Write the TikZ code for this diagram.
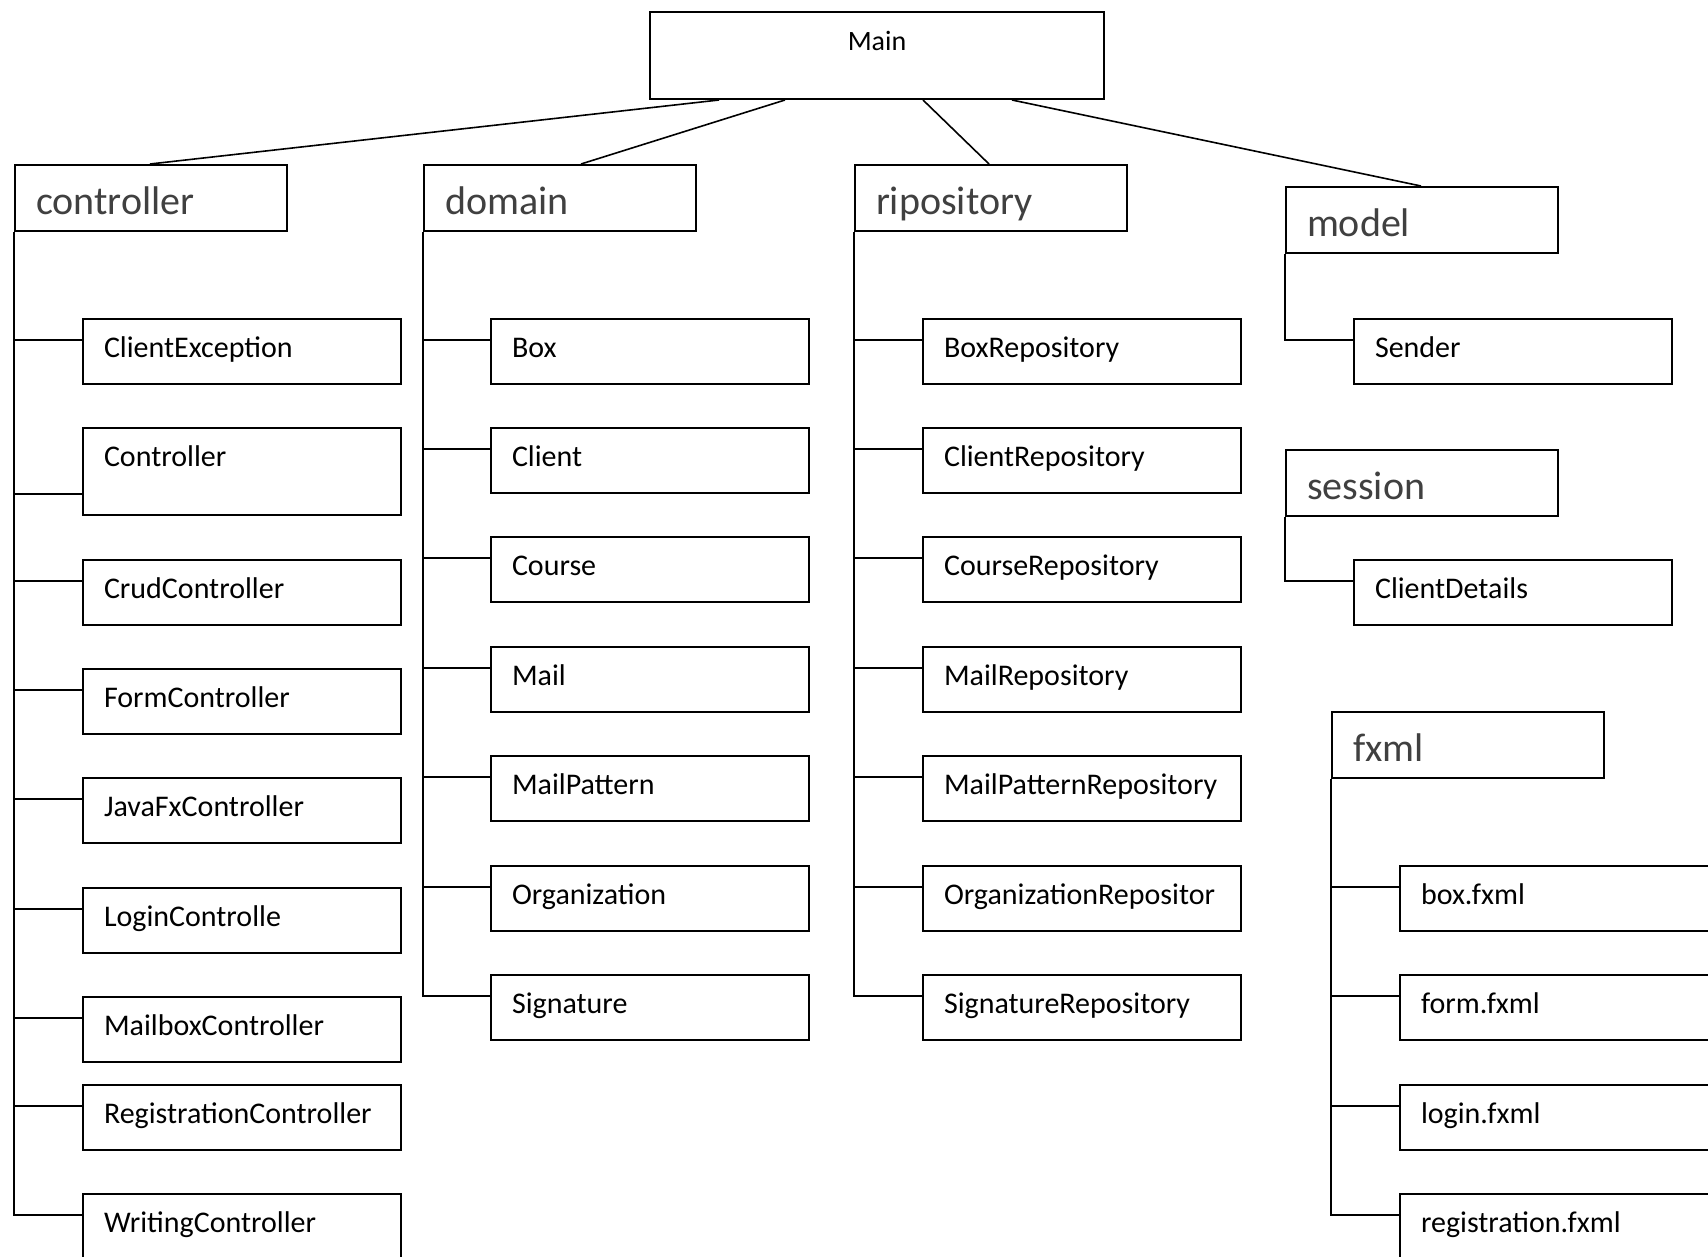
\documentclass[tikz,border=0pt]{standalone}
\usepackage{fontspec}
\setmainfont{Carlito}

\begin{document}
\begin{tikzpicture}[x=1pt,y=-1pt,line width=2pt,
    mainbox/.style={draw, anchor=north west, inner xsep=0pt, inner ysep=0pt,
      text width=454pt, text height=38pt, text depth=49pt, align=center,
      font=\fontsize{28}{34}\selectfont},
    pkg/.style={draw, anchor=north west, inner xsep=21pt, inner ysep=0pt,
      text width=230pt, text height=49pt, text depth=17pt, align=left,
      text=black!75, font=\fontsize{40}{48}\selectfont},
    cls/.style={draw, anchor=north west, inner xsep=21pt, inner ysep=0pt,
      text width=276pt, text height=38pt, text depth=27pt, align=left,
      font=\fontsize{30}{36}\selectfont}]
    \useasboundingbox (0,0) rectangle (1708,1256);
    % top and packages
    \node[mainbox] (main) at (649,11) {Main};
    \node[pkg] (ctrl) at (14,164) {controller};
    \node[pkg] (dom) at (423,164) {domain};
    \node[pkg] (rep) at (854,164) {ripository};
    \node[pkg] (mod) at (1285,186) {model};
    \node[pkg] (sess) at (1285,449) {session};
    \node[pkg] (fx) at (1331,711) {fxml};
    \draw[line width=1.6pt] ([xshift=70pt]main.south west) -- ([xshift=136pt]ctrl.north west);
    \draw[line width=1.6pt] ([xshift=136pt]main.south west) -- ([xshift=158pt]dom.north west);
    \draw[line width=1.6pt] ([xshift=274pt]main.south west) -- ([xshift=135pt]rep.north west);
    \draw[line width=1.6pt] ([xshift=363pt]main.south west) -- ([xshift=136pt]mod.north west);
    % controller
    \node[cls] (c1) at (82,318) {ClientException};
    \node[cls, text depth=49pt] (c2) at (82,427) {Controller};
    \node[cls] (c3) at (82,559) {CrudController};
    \node[cls] (c4) at (82,668) {FormController};
    \node[cls] (c5) at (82,777) {JavaFxController};
    \node[cls] (c6) at (82,887) {LoginControlle};
    \node[cls] (c7) at (82,996) {MailboxController};
    \node[cls] (c8) at (82,1084) {RegistrationController};
    \node[cls] (c9) at (82,1193) {WritingController};
    \draw (ctrl.south west) |- ([yshift=-22pt]c1.north west);
    \draw (ctrl.south west) |- ([yshift=22pt]c2.south west);
    \draw (ctrl.south west) |- ([yshift=-22pt]c3.north west);
    \draw (ctrl.south west) |- ([yshift=-22pt]c4.north west);
    \draw (ctrl.south west) |- ([yshift=-22pt]c5.north west);
    \draw (ctrl.south west) |- ([yshift=-22pt]c6.north west);
    \draw (ctrl.south west) |- ([yshift=-22pt]c7.north west);
    \draw (ctrl.south west) |- ([yshift=-22pt]c8.north west);
    \draw (ctrl.south west) |- ([yshift=-22pt]c9.north west);
    % domain
    \node[cls] (d1) at (490,318) {Box};
    \node[cls] (d2) at (490,427) {Client};
    \node[cls] (d3) at (490,536) {Course};
    \node[cls] (d4) at (490,646) {Mail};
    \node[cls] (d5) at (490,755) {MailPattern};
    \node[cls] (d6) at (490,865) {Organization};
    \node[cls] (d7) at (490,974) {Signature};
    \draw (dom.south west) |- ([yshift=-22pt]d1.north west);
    \draw (dom.south west) |- ([yshift=-22pt]d2.north west);
    \draw (dom.south west) |- ([yshift=-22pt]d3.north west);
    \draw (dom.south west) |- ([yshift=-22pt]d4.north west);
    \draw (dom.south west) |- ([yshift=-22pt]d5.north west);
    \draw (dom.south west) |- ([yshift=-22pt]d6.north west);
    \draw (dom.south west) |- ([yshift=-22pt]d7.north west);
    % ripository
    \node[cls] (r1) at (922,318) {BoxRepository};
    \node[cls] (r2) at (922,427) {ClientRepository};
    \node[cls] (r3) at (922,536) {CourseRepository};
    \node[cls] (r4) at (922,646) {MailRepository};
    \node[cls] (r5) at (922,755) {MailPatternRepository};
    \node[cls] (r6) at (922,865) {OrganizationRepositor};
    \node[cls] (r7) at (922,974) {SignatureRepository};
    \draw (rep.south west) |- ([yshift=-22pt]r1.north west);
    \draw (rep.south west) |- ([yshift=-22pt]r2.north west);
    \draw (rep.south west) |- ([yshift=-22pt]r3.north west);
    \draw (rep.south west) |- ([yshift=-22pt]r4.north west);
    \draw (rep.south west) |- ([yshift=-22pt]r5.north west);
    \draw (rep.south west) |- ([yshift=-22pt]r6.north west);
    \draw (rep.south west) |- ([yshift=-22pt]r7.north west);
    % model, session
    \node[cls] (m1) at (1353,318) {Sender};
    \node[cls] (s1) at (1353,559) {ClientDetails};
    \draw (mod.south west) |- ([yshift=-22pt]m1.north west);
    \draw (sess.south west) |- ([yshift=-22pt]s1.north west);
    % fxml
    \node[cls] (f1) at (1399,865) {box.fxml};
    \node[cls] (f2) at (1399,974) {form.fxml};
    \node[cls] (f3) at (1399,1084) {login.fxml};
    \node[cls] (f4) at (1399,1193) {registration.fxml};
    \draw (fx.south west) |- ([yshift=-22pt]f1.north west);
    \draw (fx.south west) |- ([yshift=-22pt]f2.north west);
    \draw (fx.south west) |- ([yshift=-22pt]f3.north west);
    \draw (fx.south west) |- ([yshift=-22pt]f4.north west);
  \end{tikzpicture}
\end{document}
